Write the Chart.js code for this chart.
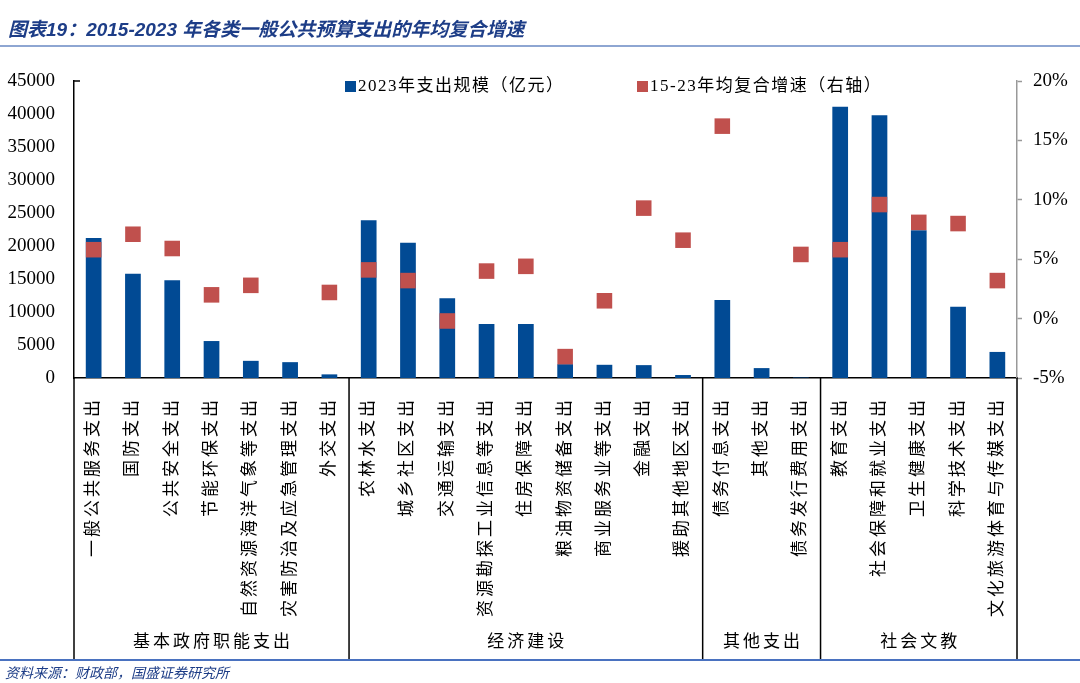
<!DOCTYPE html>
<html>
<head>
<meta charset="utf-8">
<script src="https://cdn.jsdelivr.net/npm/chart.js@4.4.1/dist/chart.umd.min.js"></script>
<style>
  html, body { margin: 0; padding: 0; background: #fff; }
  #wrap { position: relative; width: 1080px; height: 683px; overflow: hidden; }
  #c { position: absolute; left: 0; top: 0; }
  #title {
    position: absolute; left: 8px; top: 14px;
    font: italic bold 19px "Liberation Sans", "Noto Sans CJK SC", sans-serif;
    color: #1d3d87; white-space: nowrap;
  }
  #title-line { position: absolute; left: 0; top: 45px; width: 1080px; height: 2px; background: #8ea6d2; }
  #src-line { position: absolute; left: 0; top: 659px; width: 1080px; height: 2px; background: #4a72c0; }
  #src {
    position: absolute; left: 5px; top: 662px;
    font: italic 14px "Liberation Serif", "Noto Sans CJK SC", serif;
    color: #1d3d87; white-space: nowrap;
  }
</style>
</head>
<body>
<div id="wrap">
  <canvas id="c" width="1080" height="683"></canvas>
  <div id="title">图表19：2015-2023 年各类一般公共预算支出的年均复合增速</div>
  <div id="title-line"></div>
  <div id="src-line"></div>
  <div id="src">资料来源：财政部，国盛证券研究所</div>
</div>
<script>
window.addEventListener("load", ()=>{
    const categories = [
        "一般公共服务支出", "国防支出", "公共安全支出", "节能环保支出", "自然资源海洋气象等支出", "灾害防治及应急管理支出", "外交支出",
        "农林水支出", "城乡社区支出", "交通运输支出", "资源勘探工业信息等支出", "住房保障支出", "粮油物资储备支出", "商业服务业等支出", "金融支出", "援助其他地区支出",
        "债务付息支出", "其他支出", "债务发行费用支出",
        "教育支出", "社会保障和就业支出", "卫生健康支出", "科学技术支出", "文化旅游体育与传媒支出"
    ];
    // 2023年支出规模（亿元）
    const spending = [
        21200, 15800, 14800, 5600, 2600, 2400, 550,
        23900, 20500, 12100, 8200, 8200, 2100, 2000, 1950, 450,
        11800, 1500, 70,
        41100, 39800, 22400, 10800, 3950
    ];
    // 15-23年均复合增速（%）
    const cagr = [
        5.8, 7.1, 5.9, 2.0, 2.8, null, 2.2,
        4.1, 3.2, -0.2, 4.0, 4.4, -3.2, 1.5, 9.3, 6.6,
        16.2, null, 5.4,
        5.8, 9.6, 8.1, 8.0, 3.2
    ];
    const groupNames = ["基本政府职能支出", "经济建设", "其他支出", "社会文教"];
    const groupSizes = [7, 9, 3, 5];
    const seriesNames = ["2023年支出规模（亿元）", "15-23年均复合增速（右轴）"];
    const leftTicks = [0, 45000, 5000];
    const rightTicks = [-5, 20, 5];

    const SERIF = '"Liberation Serif", "Noto Sans CJK SC", serif';
    const BLUE = "#014a94";
    const RED = "#c0504d";

    class SpacedCategory extends Chart.CategoryScale {
        drawLabels(area) {
            const ctx = this.ctx;
            ctx.save();
            ctx.letterSpacing = "3px";
            super.drawLabels(area);
            ctx.restore();
        }
    }
    SpacedCategory.id = "spacedCategory";
    SpacedCategory.defaults = Chart.CategoryScale.defaults;
    Chart.register(SpacedCategory);

    // group separators, group names and the legend
    const extras = {
        id: "extras",
        afterDraw(chart) {
            const ctx = chart.ctx;
            const xs = chart.scales.x;
            const area = chart.chartArea;
            const step = (area.right - area.left) / categories.length;
            const bottom = 660;
            ctx.save();
            ctx.strokeStyle = "#000";
            ctx.lineWidth = 1.5;
            let idx = 0;
            let edges = [area.left];
            for (let s of groupSizes) { idx += s; edges.push(xs.getPixelForValue(idx - 1) + step / 2); }
            for (let e of edges) {
                ctx.beginPath();
                ctx.moveTo(e, area.bottom);
                ctx.lineTo(e, bottom);
                ctx.stroke();
            }
            // small tick at the top of the left axis
            ctx.beginPath();
            ctx.moveTo(area.left, area.top);
            ctx.lineTo(area.left + 6, area.top);
            ctx.stroke();

            ctx.fillStyle = "#000";
            ctx.font = "17px " + SERIF;
            ctx.letterSpacing = "3px";
            ctx.textAlign = "center";
            ctx.textBaseline = "middle";
            for (let i = 0; i < groupNames.length; i++) {
                ctx.fillText(groupNames[i], (edges[i] + edges[i + 1]) / 2 + 1.5, 643);
            }

            // legend
            ctx.font = "17px " + SERIF;
            ctx.letterSpacing = "1.5px";
            ctx.textAlign = "left";
            const lx = [345, 637];
            const cols = [BLUE, RED];
            for (let i = 0; i < 2; i++) {
                ctx.fillStyle = cols[i];
                ctx.fillRect(lx[i], 81, 11, 11);
                ctx.fillStyle = "#000";
                ctx.fillText(seriesNames[i], lx[i] + 13, 87);
            }
            ctx.restore();
        }
    };

    new Chart(document.getElementById("c"), {
        data: {
            labels: categories,
            datasets: [{
                type: "line",
                label: seriesNames[1],
                data: cagr,
                yAxisID: "y1",
                showLine: false,
                pointStyle: "rect",
                pointRadius: 11,
                pointHoverRadius: 11,
                pointBackgroundColor: RED,
                pointBorderWidth: 0,
                order: 0
            }, {
                type: "bar",
                label: seriesNames[0],
                data: spending,
                yAxisID: "y",
                backgroundColor: BLUE,
                categoryPercentage: 1,
                barPercentage: 0.4,
                order: 1
            }]
        },
        options: {
            responsive: false,
            animation: false,
            layout: { padding: { top: 81, bottom: 23, left: 0, right: 0 } },
            plugins: { legend: { display: false }, tooltip: { enabled: false } },
            scales: {
                x: {
                    type: "spacedCategory",
                    grid: { display: false },
                    border: { display: true, color: "#000", width: 1.5 },
                    ticks: {
                        autoSkip: false, minRotation: 90, maxRotation: 90,
                        padding: 11, color: "#000",
                        font: { family: SERIF, size: 17 }
                    },
                    afterFit(s) { s.height = 282; }
                },
                y: {
                    position: "left",
                    min: leftTicks[0], max: leftTicks[1],
                    grid: { display: false },
                    border: { display: true, color: "#000", width: 1.5 },
                    ticks: {
                        stepSize: leftTicks[2], padding: 11, color: "#000",
                        font: { family: SERIF, size: 19 },
                        callback: v => String(v)
                    },
                    afterFit(s) { s.width = 74; }
                },
                y1: {
                    position: "right",
                    min: rightTicks[0], max: rightTicks[1],
                    grid: { drawOnChartArea: false, drawTicks: true, tickLength: 5, tickColor: "#999", tickWidth: 1.5 },
                    border: { display: true, color: "#999", width: 1.5 },
                    ticks: {
                        stepSize: rightTicks[2], padding: 11, color: "#000",
                        font: { family: SERIF, size: 19 },
                        callback: v => v + "%"
                    },
                    afterFit(s) { s.width = 63; }
                }
            }
        },
        plugins: [extras]
    });
});
</script>
</body>
</html>
